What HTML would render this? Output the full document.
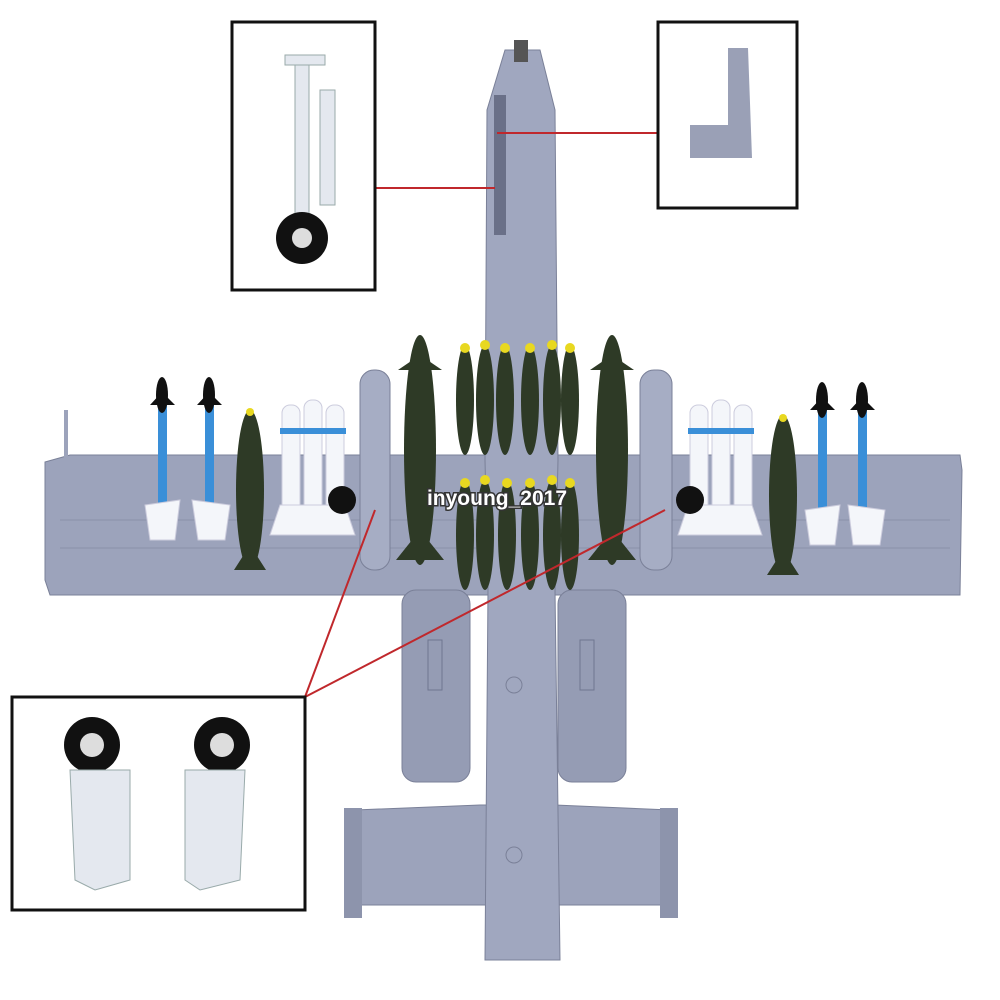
<!DOCTYPE html>
<html><head><meta charset="utf-8"><style>
html,body{margin:0;padding:0;background:#fff;}
svg{display:block}
</style></head><body>
<svg width="1000" height="1000" viewBox="0 0 1000 1000" xmlns="http://www.w3.org/2000/svg">
<rect width="1000" height="1000" fill="#fff"/>
<!-- wing -->
<path d="M45 462 L70 455 L960 455 L962 470 L960 595 L50 595 L45 580 Z" fill="#9ca3bb" stroke="#7a8098"/>
<line x1="60" y1="520" x2="950" y2="520" stroke="#8a90a8"/>
<line x1="60" y1="548" x2="950" y2="548" stroke="#8a90a8"/>
<rect x="64" y="410" width="4" height="50" fill="#9ca3bb"/>
<!-- engines -->
<rect x="402" y="590" width="68" height="192" rx="14" fill="#959cb4" stroke="#7a8098"/>
<rect x="558" y="590" width="68" height="192" rx="14" fill="#959cb4" stroke="#7a8098"/>
<g fill="none" stroke="#6f7690">
<rect x="428" y="640" width="14" height="50"/><rect x="580" y="640" width="14" height="50"/>
</g>
<!-- tail -->
<path d="M355 810 L480 805 L555 805 L670 810 L675 905 L348 905 Z" fill="#9ca3bb" stroke="#7a8098"/>
<rect x="344" y="808" width="18" height="110" fill="#8d94ac"/>
<rect x="660" y="808" width="18" height="110" fill="#8d94ac"/>
<!-- fuselage -->
<path d="M505 50 L540 50 L555 110 L558 460 L555 590 L560 960 L485 960 L488 590 L485 460 L487 110 Z" fill="#a0a7bf" stroke="#7a8098"/>
<rect x="514" y="40" width="14" height="22" fill="#555"/>
<rect x="494" y="95" width="12" height="140" fill="#6a7088"/>
<circle cx="514" cy="685" r="8" fill="none" stroke="#7a8098"/>
<circle cx="514" cy="855" r="8" fill="none" stroke="#7a8098"/>
<!-- wing pods -->
<rect x="360" y="370" width="30" height="200" rx="14" fill="#a6adc4" stroke="#7a8098"/>
<rect x="640" y="370" width="32" height="200" rx="14" fill="#a6adc4" stroke="#7a8098"/>
<!-- blue missiles -->
<g fill="#3a8fd8">
<rect x="158" y="400" width="9" height="110"/><rect x="205" y="400" width="9" height="110"/>
<rect x="818" y="405" width="9" height="110"/><rect x="858" y="405" width="9" height="110"/>
</g>
<g fill="#111">
<ellipse cx="162" cy="395" rx="6" ry="18"/><ellipse cx="209" cy="395" rx="6" ry="18"/>
<ellipse cx="822" cy="400" rx="6" ry="18"/><ellipse cx="862" cy="400" rx="6" ry="18"/>
<path d="M150 405 L175 405 L162 392 Z"/><path d="M197 405 L222 405 L209 392 Z"/>
<path d="M810 410 L835 410 L822 397 Z"/><path d="M850 410 L875 410 L862 397 Z"/>
</g>
<g fill="#f4f6fa" stroke="#ccd">
<path d="M145 505 L180 500 L175 540 L150 540 Z"/><path d="M192 500 L230 505 L225 540 L198 540 Z"/>
<path d="M805 510 L840 505 L835 545 L810 545 Z"/><path d="M848 505 L885 510 L880 545 L853 545 Z"/>
<!-- white missiles -->
<rect x="282" y="405" width="18" height="125" rx="8"/><rect x="304" y="400" width="18" height="130" rx="8"/><rect x="326" y="405" width="18" height="125" rx="8"/>
<rect x="690" y="405" width="18" height="125" rx="8"/><rect x="712" y="400" width="18" height="130" rx="8"/><rect x="734" y="405" width="18" height="125" rx="8"/>
<path d="M270 535 L355 535 L345 505 L280 505 Z"/>
<path d="M678 535 L762 535 L752 505 L688 505 Z"/>
</g>
<rect x="280" y="428" width="66" height="6" fill="#3a8fd8"/>
<rect x="688" y="428" width="66" height="6" fill="#3a8fd8"/>
<!-- dark bombs -->
<g fill="#2e3a26">
<ellipse cx="250" cy="490" rx="14" ry="80"/>
<ellipse cx="783" cy="495" rx="14" ry="80"/>
<ellipse cx="420" cy="450" rx="16" ry="115"/>
<ellipse cx="612" cy="450" rx="16" ry="115"/>
<path d="M398 370 L442 370 L420 355 Z"/><path d="M590 370 L634 370 L612 355 Z"/>
<path d="M396 560 L444 560 L420 530 Z"/><path d="M588 560 L636 560 L612 530 Z"/>
<path d="M234 570 L266 570 L250 545 Z"/><path d="M767 575 L799 575 L783 550 Z"/>
<ellipse cx="465" cy="400" rx="9" ry="55"/><ellipse cx="485" cy="400" rx="9" ry="55"/>
<ellipse cx="505" cy="400" rx="9" ry="55"/><ellipse cx="530" cy="400" rx="9" ry="55"/>
<ellipse cx="552" cy="400" rx="9" ry="55"/><ellipse cx="570" cy="400" rx="9" ry="55"/>
<ellipse cx="465" cy="535" rx="9" ry="55"/><ellipse cx="485" cy="535" rx="9" ry="55"/>
<ellipse cx="507" cy="535" rx="9" ry="55"/><ellipse cx="530" cy="535" rx="9" ry="55"/>
<ellipse cx="552" cy="535" rx="9" ry="55"/><ellipse cx="570" cy="535" rx="9" ry="55"/>
</g>
<g fill="#e8d820">
<circle cx="465" cy="348" r="5"/><circle cx="485" cy="345" r="5"/><circle cx="505" cy="348" r="5"/>
<circle cx="530" cy="348" r="5"/><circle cx="552" cy="345" r="5"/><circle cx="570" cy="348" r="5"/>
<circle cx="465" cy="483" r="5"/><circle cx="485" cy="480" r="5"/><circle cx="507" cy="483" r="5"/>
<circle cx="530" cy="483" r="5"/><circle cx="552" cy="480" r="5"/><circle cx="570" cy="483" r="5"/>
<circle cx="250" cy="412" r="4"/><circle cx="783" cy="418" r="4"/>
</g>
<!-- wheels on wing -->
<circle cx="342" cy="500" r="14" fill="#111"/><circle cx="690" cy="500" r="14" fill="#111"/>
<!-- red lines -->
<g stroke="#c0282c" stroke-width="2">
<line x1="375" y1="188" x2="495" y2="188"/>
<line x1="658" y1="133" x2="497" y2="133"/>
<line x1="305" y1="697" x2="375" y2="510"/>
<line x1="305" y1="697" x2="665" y2="510"/>
</g>
<!-- insets -->
<rect x="232" y="22" width="143" height="268" fill="#fff" stroke="#111" stroke-width="3"/>
<rect x="285" y="55" width="40" height="10" fill="#e4e8ef" stroke="#9aa"/>
<rect x="295" y="65" width="14" height="150" fill="#e4e8ef" stroke="#9aa"/>
<path d="M320 90 L335 90 L335 205 L320 205 Z" fill="#e4e8ef" stroke="#9aa"/>
<circle cx="302" cy="238" r="26" fill="#111"/><circle cx="302" cy="238" r="10" fill="#ddd"/>
<rect x="658" y="22" width="139" height="186" fill="#fff" stroke="#111" stroke-width="3"/>
<path d="M728 48 L748 48 L752 158 L690 158 L690 125 L728 125 Z" fill="#9aa0b6"/>
<rect x="12" y="697" width="293" height="213" fill="#fff" stroke="#111" stroke-width="3"/>
<circle cx="92" cy="745" r="28" fill="#111"/><circle cx="92" cy="745" r="12" fill="#ddd"/>
<circle cx="222" cy="745" r="28" fill="#111"/><circle cx="222" cy="745" r="12" fill="#ddd"/>
<path d="M70 770 L130 770 L130 880 L95 890 L75 880 Z" fill="#e4e8ef" stroke="#9aa"/>
<path d="M185 770 L245 770 L240 880 L200 890 L185 880 Z" fill="#e4e8ef" stroke="#9aa"/>
<text x="497" y="505" text-anchor="middle" font-family="Liberation Sans, sans-serif" font-weight="bold" font-size="21" fill="#fff" stroke="#333" stroke-width="3" paint-order="stroke">inyoung_2017</text>
</svg>
</body></html>
